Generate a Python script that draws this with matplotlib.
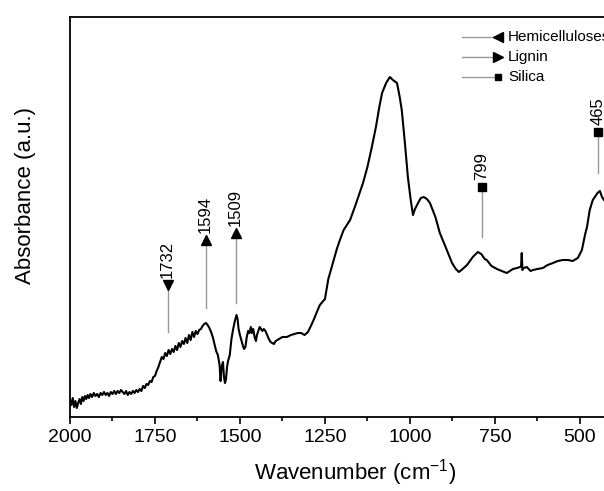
"""FTIR absorbance spectrum with band assignments (hemicelluloses / lignin / silica)."""
import numpy as np
import matplotlib
matplotlib.use("Agg")
import matplotlib.pyplot as plt
from matplotlib.ticker import MultipleLocator, NullLocator

plt.rcParams["font.family"] = ["Liberation Sans", "DejaVu Sans"]

# --- spectrum (wavenumber cm-1, absorbance a.u.) ---
wn = [2000, 1996, 1992, 1988, 1984, 1980, 1976, 1972, 1968, 1964, 1960, 1956, 1952, 1948,
      1944, 1940, 1935, 1930, 1925, 1920, 1915, 1910, 1905, 1900, 1895, 1890, 1885, 1880,
      1875, 1870, 1865, 1860, 1855, 1850, 1845, 1840, 1835, 1830, 1825, 1820, 1815, 1810,
      1805, 1800, 1795, 1790, 1785, 1780, 1775, 1770, 1765, 1760, 1755, 1750, 1745, 1740,
      1735, 1730, 1725, 1720, 1715, 1710, 1705, 1700, 1695, 1690, 1685, 1680, 1675, 1670,
      1665, 1660, 1655, 1650, 1645, 1640, 1635, 1630, 1625, 1620, 1615, 1610, 1605, 1600,
      1595, 1590, 1585, 1580, 1575, 1570, 1565, 1560, 1557, 1554, 1550, 1547, 1544, 1541,
      1538, 1535, 1530, 1525, 1520, 1515, 1510, 1507, 1504, 1500, 1496, 1492, 1488, 1484,
      1480, 1476, 1472, 1468, 1465, 1461, 1457, 1453, 1450, 1446, 1442, 1438, 1434, 1430,
      1425, 1420, 1415, 1410, 1405, 1400, 1395, 1385, 1375, 1362, 1350, 1340, 1330, 1320,
      1310, 1300, 1290, 1282, 1275, 1265, 1250, 1240, 1226, 1215, 1206, 1195, 1176, 1160,
      1138, 1125, 1112, 1100, 1090, 1082, 1070, 1059, 1050, 1038, 1030, 1024, 1015, 1006,
      998, 991, 985, 976, 968, 959, 950, 941, 925, 912, 895, 876, 865, 856, 845, 832, 815,
      800, 790, 780, 774, 760, 744, 730, 715, 697, 685, 676, 673, 671, 669, 665, 656, 645,
      638, 625, 609, 595, 579, 565, 550, 535, 521, 506, 494, 485, 479, 471, 462, 456, 448,
      441, 435, 429]
absorb = [17, 12, 19, 10, 16, 9, 14, 18, 13, 20, 16, 21, 18, 22,
          19, 23, 20, 24, 21, 23, 20, 24, 22, 25, 22, 24, 21, 25,
          23, 26, 23, 26, 24, 27, 25, 23, 26, 22, 25, 23, 26, 24,
          27, 25, 28, 26, 31, 29, 33, 32, 36, 35, 40, 41, 46, 50,
          55, 60, 58, 64, 61, 67, 63, 68, 65, 71, 67, 74, 70, 76,
          73, 79, 74, 82, 77, 85, 80, 86, 83, 87, 88, 91, 93, 94,
          92, 89, 85, 80, 73, 66, 62, 52, 36, 50, 55, 40, 34, 38,
          50, 56, 62, 78, 88, 96, 102, 98, 88, 82, 77, 72, 68, 70,
          80, 86, 84, 90, 84, 88, 80, 76, 82, 86, 90, 88, 86, 88,
          86, 82, 78, 75, 74, 73, 76, 78, 80, 80, 82, 83, 84, 84,
          82, 85, 92, 98, 104, 112, 118, 138, 155, 168, 177, 187, 197, 212,
          234, 250, 270, 290, 310, 324, 334, 340, 337, 334, 320, 307, 275, 240,
          218, 202, 208, 214, 219, 220, 218, 214, 200, 184, 170, 154, 148, 145, 148, 152, 160,
          165, 163, 158, 157, 151, 148, 146, 144, 148, 149, 150, 150, 164, 147, 149, 150, 146,
          147, 148, 149, 152, 154, 156, 157, 157, 156, 159, 167, 182, 190, 207, 217, 220, 224,
          226, 220, 217]

# --- band annotations ---
ann_labels = ["1732", "1594", "1509", "799", "465"]
ann_pos = [1713, 1601, 1513, 788, 447]          # where the markers sit in the picture
ann_base = [85, 109, 114, 180, 244]             # bottom of the guide line
ann_top = [132, 177, 184, 230, 285]             # marker height
ann_marker = ["v", "^", "^", "s", "s"]

legend_names = ["Hemicelluloses", "Lignin", "Silica"]
legend_markers = ["<", ">", "s"]

fig = plt.figure(figsize=(6.04, 4.91), dpi=100)
ax = fig.add_axes([70 / 604, 74 / 491, 534 / 604, 400 / 491])

ax.plot(wn, absorb, color="black", lw=1.5, solid_joinstyle="round")

for lab, x, y0, y1, m in zip(ann_labels, ann_pos, ann_base, ann_top, ann_marker):
    ax.plot([x, x], [y0, y1], color="#999999", lw=1.0, zorder=1)
    ax.plot([x], [y1], marker=m, color="black", ms=6 if m == "s" else 7, ls="none",
            clip_on=False)
    ax.text(x, y1 + 7, lab, rotation=90, ha="center", va="bottom", fontsize=12)

# legend drawn by hand to get the marker at the line end
for i, (name, m) in enumerate(zip(legend_names, legend_markers)):
    yy = 0.95 - 0.05 * i
    ax.plot([0.734, 0.801], [yy, yy], color="#999999", lw=1.0,
            transform=ax.transAxes, clip_on=False)
    ax.plot([0.801], [yy], marker=m, color="black", ms=5 if m == "s" else 7,
            transform=ax.transAxes, clip_on=False)
    ax.text(0.82, yy, name, transform=ax.transAxes, va="center", ha="left",
            fontsize=11, clip_on=False)

ax.set_xlim(2000, 429)
ax.set_ylim(0, 400)
ax.xaxis.set_major_locator(MultipleLocator(250))
ax.xaxis.set_minor_locator(MultipleLocator(125))
ax.yaxis.set_major_locator(NullLocator())
ax.tick_params(axis="x", which="major", direction="out", length=5, width=1.2,
               labelsize=14, pad=4)
ax.tick_params(axis="x", which="minor", direction="out", length=3, width=1.2)
for s in ax.spines.values():
    s.set_linewidth(1.3)
ax.spines["right"].set_visible(False)

ax.set_xlabel("Wavenumber (cm$^{\\mathregular{-1}}$)", fontsize=16)
ax.xaxis.set_label_coords(0.534, -0.1)
ax.set_ylabel("Absorbance (a.u.)", fontsize=16)
ax.yaxis.set_label_coords(-0.064, 0.555)

fig.savefig("out.png", dpi=100)
